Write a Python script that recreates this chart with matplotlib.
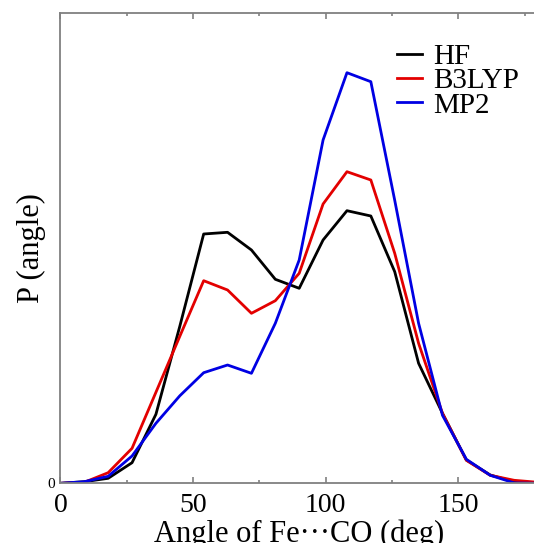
import matplotlib
matplotlib.use("Agg")
import matplotlib.pyplot as plt

angles = [0, 9, 18, 27, 36, 45, 54, 63, 72, 81, 90, 99, 108, 117, 126, 135, 144, 153, 162, 171, 180]
hf =    [0, 1.6, 5, 20.6, 69, 157, 249.3, 251, 233.3, 204, 195, 243.3, 272.6, 267.3, 211.6, 120, 70, 23.3, 8.3, 1.5, 0.5]
b3lyp = [0, 1.0, 10.6, 35, 91, 147, 202.6, 193.3, 170, 182.6, 210, 279.3, 311.6, 303.3, 230, 140, 70, 23, 8, 3, 1]
mp2 =   [0, 1.6, 7, 27.3, 60, 87.5, 110.6, 118.3, 110, 160, 223.3, 343.3, 410.6, 401.6, 283, 160, 68, 24, 8, 0.4, 0]

plt.rcParams['font.family'] = ['Liberation Serif', 'DejaVu Serif']

fig = plt.figure(figsize=(5.34, 5.43), dpi=100)
ax = fig.add_axes([60.4/534, 59.7/543, (538-60.4)/534, (483.3-13.3)/543])

ax.plot(angles, hf, color='black', lw=2.0, label='HF')
ax.plot(angles, b3lyp, color='#e30000', lw=2.0, label='B3LYP')
ax.plot(angles, mp2, color='#0000e3', lw=2.0, label='MP2')

ax.set_xlim(0, 180)
ax.set_ylim(0, 470)

for s in ax.spines.values():
    s.set_color('#808080')
    s.set_linewidth(1.3)
ax.spines['right'].set_visible(False)

ax.set_xticks([0, 50, 100, 150])
ax.set_xticks([25, 75, 125, 175], minor=True)
ax.tick_params(axis='x', which='major', direction='in', length=4, width=1.2, color='#808080',
               labelsize=20, pad=7, top=True)
ax.tick_params(axis='x', which='minor', direction='in', length=2.5, width=1.2, color='#808080', top=True)
ax.set_yticks([0])
ax.set_yticklabels(['0'])
ax.tick_params(axis='y', which='both', length=0, labelsize=11, pad=4)

ax.set_xlabel('Angle of Fe\u00b7\u00b7\u00b7CO (deg)', fontsize=22, labelpad=1)
ax.set_ylabel('P (angle)', fontsize=22, labelpad=1)

leg = ax.legend(loc='upper left', bbox_to_anchor=(397/534, 1 - 44/543), bbox_transform=fig.transFigure,
                frameon=False, fontsize=21, handlelength=0.85, handletextpad=0.4,
                labelspacing=-0.08, borderpad=0, borderaxespad=0)

fig.savefig('out.png', dpi=100)
